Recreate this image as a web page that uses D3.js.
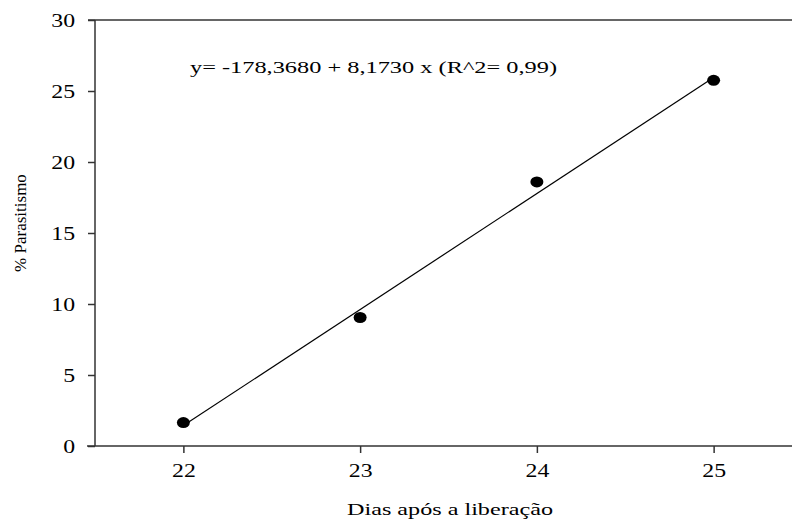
<!DOCTYPE html>
<html>
<head>
<meta charset="utf-8">
<script src="https://cdn.jsdelivr.net/npm/d3@7"></script>
<style>
  body { margin: 0; background: #fff; }
</style>
</head>
<body>
<div id="chart"></div>
<script>
const days = [22, 23, 24, 25]
const parasitismo = [1.65, 9.05, 18.6, 25.75]
const xTicks = [22, 23, 24, 25]
const yTicks = [0, 5, 10, 15, 20, 25, 30]
const fitIntercept = -178.368
const fitSlope = 8.173
const equationLabel = "y= -178,3680 + 8,1730 x (R^2= 0,99)"

const width = 792
const height = 522
const serif = "Liberation Serif"

const svg = d3.select("#chart")
  .append("svg")
    .attr("width", width)
    .attr("height", height)

const x = d3.scaleLinear().domain([21.5, 25.5]).range([95, 802])
const y = d3.scaleLinear().domain([0, 30]).range([446, 20])

// the original is wider than it is tall, so horizontal text is stretched
function stretch(sel, k) {
  sel.each(function () {
    const w = this.getComputedTextLength()
    d3.select(this)
      .attr("textLength", w * k)
      .attr("lengthAdjust", "spacingAndGlyphs")
  })
}

const yAxis = svg.append("g")
  .attr("transform", `translate(${x(21.5)},0)`)
  .call(d3.axisLeft(y).tickValues(yTicks).tickSize(7).tickPadding(13))
yAxis.select(".domain").attr("d", `M0,${y(30)}V${y(0)}`)

const xAxis = svg.append("g")
  .attr("transform", `translate(0,${y(0)})`)
  .call(d3.axisBottom(x).tickValues(xTicks).tickFormat(d3.format("d")).tickSize(7).tickPadding(11))
xAxis.select(".domain").attr("d", `M${x(21.5) - 8},0H${width}`)

// top frame line
svg.append("line")
  .attr("x1", x(21.5) - 7).attr("x2", width)
  .attr("y1", y(30)).attr("y2", y(30))
  .attr("stroke", "#333").attr("stroke-width", 1.5)

svg.selectAll("g").attr("font-family", serif).attr("font-size", 19)
svg.selectAll(".domain, .tick line")
  .attr("stroke", "#333")
  .attr("stroke-width", 1.5)
svg.selectAll(".tick text").attr("fill", "#000")
stretch(svg.selectAll(".tick text"), 1.25)

// regression line
const fit = days.map(d => ({ x: d, y: fitIntercept + fitSlope * d }))
svg.append("path")
  .datum([fit[0], fit[fit.length - 1]])
  .attr("fill", "none")
  .attr("stroke", "#000")
  .attr("stroke-width", 1.2)
  .attr("d", d3.line().x(d => x(d.x)).y(d => y(d.y)))

// points
svg.selectAll(".pt")
  .data(days.map((d, i) => ({ x: d, y: parasitismo[i] })))
  .join("ellipse")
    .attr("class", "pt")
    .attr("cx", d => x(d.x))
    .attr("cy", d => y(d.y))
    .attr("rx", 6.5)
    .attr("ry", 5.5)
    .attr("fill", "#000")

// equation
svg.append("text")
  .attr("x", 190)
  .attr("y", 73)
  .attr("font-family", serif)
  .attr("font-size", 16)
  .attr("textLength", 367)
  .attr("lengthAdjust", "spacingAndGlyphs")
  .text(equationLabel)

// axis titles
svg.append("text")
  .attr("x", 347)
  .attr("y", 515)
  .attr("font-family", serif)
  .attr("font-size", 16)
  .attr("textLength", 206)
  .attr("lengthAdjust", "spacingAndGlyphs")
  .text("Dias após a liberação")

svg.append("text")
  .attr("transform", `translate(26,223) rotate(-90)`)
  .attr("text-anchor", "middle")
  .attr("font-family", serif)
  .attr("font-size", 17)
  .text("% Parasitismo")
</script>
</body>
</html>
